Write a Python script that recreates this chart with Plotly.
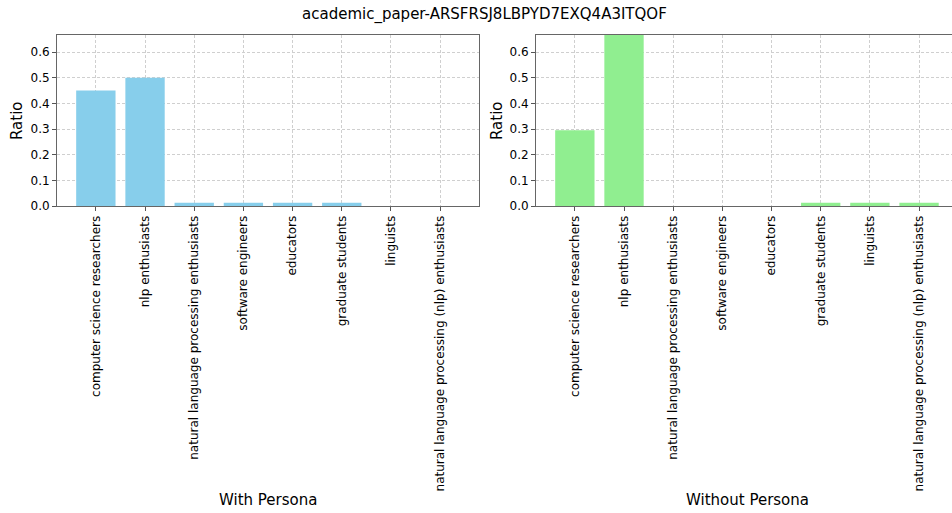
import plotly.graph_objects as go

categories = ["computer science researchers", "nlp enthusiasts",
              "natural language processing enthusiasts", "software engineers",
              "educators", "graduate students", "linguists",
              "natural language processing (nlp) enthusiasts"]
with_persona = [0.45, 0.5, 0.0125, 0.0125, 0.0125, 0.0125, 0.0, 0.0]
without_persona = [0.2949, 0.6667, 0.0, 0.0, 0.0, 0.0128, 0.0128, 0.0128]
y_ticks = [0.0, 0.1, 0.2, 0.3, 0.4, 0.5, 0.6]

W, H = 952, 513
font = "DejaVu Sans, Liberation Sans, sans-serif"

graph = go.Figure()

graph.add_trace(go.Bar(x=list(range(8)), y=with_persona, marker_color="#87CEEB",
                       marker_line_width=0, xaxis="x", yaxis="y", showlegend=False))
graph.add_trace(go.Bar(x=list(range(8)), y=without_persona, marker_color="#90EE90",
                       marker_line_width=0, xaxis="x2", yaxis="y2", showlegend=False))

axis_common = dict(
    showline=True, linecolor="#666666", linewidth=1,
    ticks="outside", ticklen=4, tickcolor="#555555",
    showgrid=True, gridcolor="#cfcfcf", griddash="3px,2px", gridwidth=0.7,
    zeroline=False, automargin=False,
    tickfont=dict(family=font, size=12, color="#000000"),
)

xticks = dict(tickmode="array", tickvals=list(range(8)), ticktext=categories, tickangle=-90)

graph.update_layout(
    width=W, height=H,
    margin=dict(l=0, r=0, t=0, b=0),
    paper_bgcolor="white",
    plot_bgcolor="white",
    bargap=0.2,
    font=dict(family=font, color="#000000"),
    xaxis=dict(domain=[57 / W, 479 / W], range=[-0.79, 7.79], anchor="y",
               mirror=True, **xticks, **axis_common),
    yaxis=dict(domain=[1 - 206 / H, 1 - 35 / H], range=[0, 0.6667], anchor="x",
               mirror=True, tickvals=y_ticks, ticktext=["%.1f" % v for v in y_ticks],
               **axis_common),
    xaxis2=dict(domain=[536 / W, 1.0], range=[-0.79, 7.67], anchor="y2",
                mirror=True, **xticks, **axis_common),
    yaxis2=dict(domain=[1 - 206 / H, 1 - 35 / H], range=[0, 0.6667], anchor="x2",
                mirror=False, tickvals=y_ticks, ticktext=["%.1f" % v for v in y_ticks],
                **axis_common),
)

## titles and axis labels
labels = [
    ("academic_paper-ARSFRSJ8LBPYD7EXQ4A3ITQOF", 484, 15, 0),
    ("With Persona", 268, 500, 0),
    ("Without Persona", 747, 500, 0),
    ("Ratio", 17, 121, -90),
    ("Ratio", 497, 121, -90),
]
for text, px, py, angle in labels:
    graph.add_annotation(text=text, x=px / W, y=1 - py / H, textangle=angle,
                         xref="paper", yref="paper", xanchor="center", yanchor="middle",
                         showarrow=False, font=dict(size=15))

graph.write_html("out.html", config={"displayModeBar": False},
                 post_script="document.body.style.margin='0';")
